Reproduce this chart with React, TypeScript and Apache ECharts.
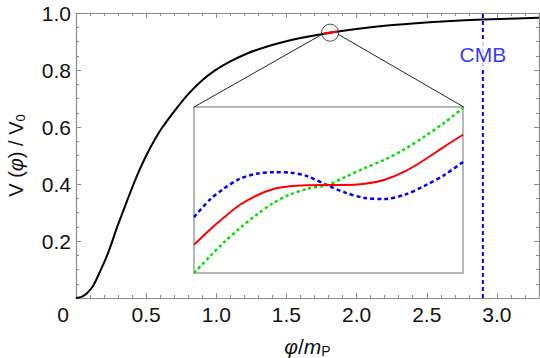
import React, { useEffect, useRef } from "react";
import * as echarts from "echarts";

// Main curve V(phi)/V0
const phi = [0, 0.04, 0.08, 0.12, 0.152, 0.224, 0.295, 0.367, 0.438, 0.51, 0.605, 0.7, 0.795, 0.89, 0.986, 1.1, 1.22, 1.34, 1.45, 1.6, 1.8, 2.0, 2.2, 2.4, 2.64, 2.9, 3.3];
const potential = [0, 0.004, 0.0175, 0.041, 0.072, 0.152, 0.251, 0.345, 0.433, 0.509, 0.591, 0.655, 0.713, 0.76, 0.797, 0.83, 0.858, 0.879, 0.895, 0.912, 0.93, 0.944, 0.955, 0.963, 0.971, 0.977, 0.983];

// Zoomed segment (red) on main curve
const zoomPhi = [1.763, 1.811, 1.863];
const zoomV = [0.927, 0.931, 0.935];
const zoomCenter = [1.811, 0.931];
const connectLeft = [[1.757, 0.926], [0.841, 0.67]];
const connectRight = [[1.866, 0.926], [2.764, 0.67]];

// CMB marker
const cmbPhi = 2.9;
const cmbLabelV = 0.854;

// Inset curves (normalised coordinates)
const insetX = [0, 0.059, 0.109, 0.171, 0.233, 0.295, 0.356, 0.418, 0.499, 0.561, 0.635, 0.709, 0.784, 0.858, 0.932, 1.0];
const insetRed = [0.17, 0.261, 0.331, 0.411, 0.467, 0.506, 0.522, 0.528, 0.53, 0.53, 0.538, 0.562, 0.612, 0.683, 0.763, 0.833];
const insetBlue = [0.337, 0.442, 0.506, 0.568, 0.598, 0.607, 0.605, 0.585, 0.526, 0.485, 0.452, 0.446, 0.472, 0.526, 0.592, 0.669];
const insetGreen = [0, 0.1, 0.181, 0.271, 0.351, 0.422, 0.472, 0.506, 0.532, 0.578, 0.632, 0.683, 0.747, 0.823, 0.907, 0.994];

const FONT = "Liberation Sans, Arial, Helvetica, sans-serif";
const FRAME = "#8c8c8c";
const LABEL_SIZE = 21;

const zip = (xs: number[], ys: number[]) => xs.map((x, i) => [x, ys[i]]);

export default function App() {
  const ref = useRef<HTMLDivElement>(null);
  useEffect(() => {
    if (!ref.current) return;
    const chart = echarts.init(ref.current, undefined, { renderer: "svg" });

    const frameAxisBase = (extra: any) => ({
      type: "value",
      gridIndex: 0,
      splitLine: { show: false },
      ...extra,
      axisLine: { onZero: false, ...(extra.axisLine || {}) },
    });

    const majorTick = { show: true, inside: true, length: 5, lineStyle: { color: FRAME, width: 1 } };
    const minorTick = { show: true, inside: true, length: 3, lineStyle: { color: FRAME, width: 1 } };
    const frameLine = { show: true, onZero: false, lineStyle: { color: FRAME, width: 1.2 } };

    chart.setOption({
      animation: false,
      backgroundColor: "#fff",
      grid: [
        { left: 76, top: 13, right: 1, bottom: 60, containLabel: false, outerBoundsMode: "none" },
        { left: 194, top: 107, width: 269, height: 166, show: true, borderColor: "#a0a0a0", borderWidth: 1.5, backgroundColor: "transparent", containLabel: false, outerBoundsMode: "none" },
      ],
      xAxis: [
        frameAxisBase({
          min: 0, max: 3.3, interval: 0.5, position: "bottom",
          axisLine: frameLine,
          axisTick: majorTick,
          axisLabel: {
            show: true, margin: 6, color: "#111", fontSize: LABEL_SIZE, fontFamily: FONT,
            showMaxLabel: false,
            formatter: (v: number) => (v === 0 ? "{z|0}" : v.toFixed(1)),
            rich: { z: { fontSize: LABEL_SIZE, fontFamily: FONT, color: "#111", padding: [0, 26, 0, 0] } },
          },
          name: "{i|φ}{n|/}{i|m}{s|P}",
          nameLocation: "middle",
          nameGap: 36,
          nameTextStyle: {
            rich: {
              i: { fontSize: 21, fontStyle: "italic", fontFamily: FONT, color: "#111" },
              n: { fontSize: 21, fontFamily: FONT, color: "#111" },
              s: { fontSize: 14, fontFamily: FONT, color: "#111", padding: [10, 0, 0, 0] },
            },
          },
        }),
        frameAxisBase({
          min: 0, max: 3.3, interval: 0.1, position: "bottom",
          axisLine: { show: false }, axisTick: minorTick, axisLabel: { show: false },
        }),
        frameAxisBase({
          min: 0, max: 3.3, interval: 0.5, position: "top",
          axisLine: frameLine,
          axisTick: majorTick, axisLabel: { show: false },
        }),
        frameAxisBase({
          min: 0, max: 3.3, interval: 0.1, position: "top",
          axisLine: { show: false }, axisTick: minorTick, axisLabel: { show: false },
        }),
        { type: "value", gridIndex: 1, min: 0, max: 1, show: false },
      ],
      yAxis: [
        frameAxisBase({
          min: 0, max: 1, interval: 0.2, position: "left",
          axisLine: frameLine,
          axisTick: majorTick,
          axisLabel: {
            show: true, margin: 5, color: "#111", fontSize: LABEL_SIZE, fontFamily: FONT,
            showMinLabel: false,
            formatter: (v: number) => v.toFixed(1),
          },
          name: "{n|V (}{i|φ}{n|) / V}{s|0}",
          nameLocation: "middle",
          nameGap: 49,
          nameRotate: 90,
          nameTextStyle: {
            rich: {
              i: { fontSize: 20, fontStyle: "italic", fontFamily: FONT, color: "#111" },
              n: { fontSize: 20, fontFamily: FONT, color: "#111" },
              s: { fontSize: 13, fontFamily: FONT, color: "#111", padding: [9, 0, 0, 0] },
            },
          },
        }),
        frameAxisBase({
          min: 0, max: 1, interval: 0.05, position: "left",
          axisLine: { show: false }, axisTick: minorTick, axisLabel: { show: false },
        }),
        frameAxisBase({
          min: 0, max: 1, interval: 0.2, position: "right",
          axisLine: frameLine,
          axisTick: majorTick, axisLabel: { show: false },
        }),
        frameAxisBase({
          min: 0, max: 1, interval: 0.05, position: "right",
          axisLine: { show: false }, axisTick: minorTick, axisLabel: { show: false },
        }),
        { type: "value", gridIndex: 1, min: 0, max: 1, show: false },
      ],
      series: [
        {
          type: "line", xAxisIndex: 0, yAxisIndex: 0, data: zip(phi, potential),
          smooth: 0.25, showSymbol: false, symbol: "none",
          lineStyle: { color: "#000", width: 2 }, z: 3,
        },
        {
          type: "line", xAxisIndex: 0, yAxisIndex: 0, data: zip(zoomPhi, zoomV),
          smooth: true, showSymbol: false, symbol: "none",
          lineStyle: { color: "#ff0000", width: 2.2 }, z: 4,
        },
        {
          type: "line", xAxisIndex: 0, yAxisIndex: 0, data: connectLeft,
          showSymbol: false, symbol: "none", lineStyle: { color: "#222", width: 1 }, z: 3,
        },
        {
          type: "line", xAxisIndex: 0, yAxisIndex: 0, data: connectRight,
          showSymbol: false, symbol: "none", lineStyle: { color: "#222", width: 1 }, z: 3,
        },
        {
          type: "scatter", xAxisIndex: 0, yAxisIndex: 0, data: [zoomCenter],
          symbol: "circle", symbolSize: 17,
          itemStyle: { color: "rgba(0,0,0,0)", borderColor: "#222", borderWidth: 1 }, z: 5,
        },
        {
          type: "line", xAxisIndex: 0, yAxisIndex: 0, data: [[cmbPhi, 0], [cmbPhi, 1]],
          showSymbol: false, symbol: "none",
          lineStyle: { color: "#0000ff", width: 2, type: [4, 3] }, z: 2,
        },
        {
          type: "scatter", xAxisIndex: 0, yAxisIndex: 0, data: [[cmbPhi, cmbLabelV]],
          symbolSize: 0, z: 6,
          label: {
            show: true, position: "inside", formatter: "CMB",
            color: "#0000ff", fontSize: 21, fontFamily: FONT,
            backgroundColor: "#fff", padding: [3, 1, 3, 1],
          },
        },
        {
          type: "line", xAxisIndex: 4, yAxisIndex: 4, data: zip(insetX, insetBlue),
          smooth: 0.3, showSymbol: false, symbol: "none",
          lineStyle: { color: "#0000ff", width: 2.5, type: [4, 3] },
        },
        {
          type: "line", xAxisIndex: 4, yAxisIndex: 4, data: zip(insetX, insetGreen),
          smooth: 0.3, showSymbol: false, symbol: "none",
          lineStyle: { color: "#00e000", width: 2.5, type: [3, 3] },
        },
        {
          type: "line", xAxisIndex: 4, yAxisIndex: 4, data: zip(insetX, insetRed),
          smooth: 0.3, showSymbol: false, symbol: "none",
          lineStyle: { color: "#ff0000", width: 2 },
        },
      ],
    });
    return () => chart.dispose();
  }, []);
  return <div ref={ref} style={{ width: 540, height: 358, position: "absolute", left: 0, top: 0 }} />;
}
